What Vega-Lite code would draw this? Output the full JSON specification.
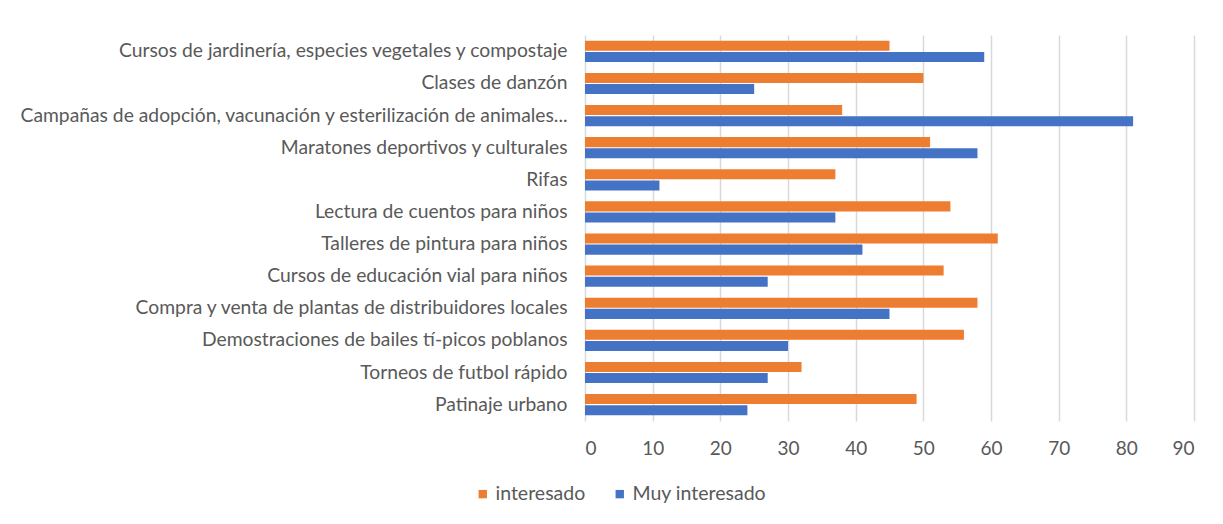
{
  "$schema": "https://vega.github.io/schema/vega-lite/v6.json",
  "width": 609,
  "height": 386,
  "autosize": {"type": "none"},
  "padding": {"left": 585, "top": 35, "right": 29, "bottom": 103},
  "background": "white",
  "data": {
    "values": [
      {"actividad": "Cursos de jardinería, especies vegetales y compostaje", "serie": "interesado", "valor": 45},
      {"actividad": "Cursos de jardinería, especies vegetales y compostaje", "serie": "Muy interesado", "valor": 59},
      {"actividad": "Clases de danzón", "serie": "interesado", "valor": 50},
      {"actividad": "Clases de danzón", "serie": "Muy interesado", "valor": 25},
      {"actividad": "Campañas de adopción, vacunación y esterilización de animales...", "serie": "interesado", "valor": 38},
      {"actividad": "Campañas de adopción, vacunación y esterilización de animales...", "serie": "Muy interesado", "valor": 81},
      {"actividad": "Maratones deportivos y culturales", "serie": "interesado", "valor": 51},
      {"actividad": "Maratones deportivos y culturales", "serie": "Muy interesado", "valor": 58},
      {"actividad": "Rifas", "serie": "interesado", "valor": 37},
      {"actividad": "Rifas", "serie": "Muy interesado", "valor": 11},
      {"actividad": "Lectura de cuentos para niños", "serie": "interesado", "valor": 54},
      {"actividad": "Lectura de cuentos para niños", "serie": "Muy interesado", "valor": 37},
      {"actividad": "Talleres de pintura para niños", "serie": "interesado", "valor": 61},
      {"actividad": "Talleres de pintura para niños", "serie": "Muy interesado", "valor": 41},
      {"actividad": "Cursos de educación vial para niños", "serie": "interesado", "valor": 53},
      {"actividad": "Cursos de educación vial para niños", "serie": "Muy interesado", "valor": 27},
      {"actividad": "Compra y venta de plantas de distribuidores locales", "serie": "interesado", "valor": 58},
      {"actividad": "Compra y venta de plantas de distribuidores locales", "serie": "Muy interesado", "valor": 45},
      {"actividad": "Demostraciones de bailes tí-picos poblanos", "serie": "interesado", "valor": 56},
      {"actividad": "Demostraciones de bailes tí-picos poblanos", "serie": "Muy interesado", "valor": 30},
      {"actividad": "Torneos de futbol rápido", "serie": "interesado", "valor": 32},
      {"actividad": "Torneos de futbol rápido", "serie": "Muy interesado", "valor": 27},
      {"actividad": "Patinaje urbano", "serie": "interesado", "valor": 49},
      {"actividad": "Patinaje urbano", "serie": "Muy interesado", "valor": 24}
    ]
  },
  "mark": {"type": "bar"},
  "encoding": {
    "y": {
      "field": "actividad",
      "type": "nominal",
      "sort": null,
      "scale": {"paddingInner": 0.34, "paddingOuter": 0.18},
      "axis": {
        "title": null,
        "ticks": false,
        "domain": false,
        "labelPadding": 18,
        "labelFont": "Lato",
        "labelFontSize": 19.3,
        "labelColor": "#595959",
        "labelLimit": 0
      }
    },
    "yOffset": {
      "field": "serie",
      "type": "nominal",
      "sort": ["interesado", "Muy interesado"],
      "scale": {"paddingInner": 0.1}
    },
    "x": {
      "field": "valor",
      "type": "quantitative",
      "scale": {"domain": [0, 90], "nice": false},
      "axis": {
        "title": null,
        "values": [0, 10, 20, 30, 40, 50, 60, 70, 80, 90],
        "ticks": false,
        "domain": false,
        "grid": true,
        "gridColor": "#D9D9D9",
        "gridWidth": 1.5,
        "labelPadding": 18,
        "labelFont": "Lato",
        "labelFontSize": 19,
        "labelColor": "#595959"
      }
    },
    "color": {
      "field": "serie",
      "type": "nominal",
      "sort": ["interesado", "Muy interesado"],
      "scale": {"domain": ["interesado", "Muy interesado"], "range": ["#ED7D31", "#4472C4"]},
      "legend": {
        "title": null,
        "orient": "none",
        "direction": "horizontal",
        "legendX": -112,
        "legendY": 449,
        "symbolType": "square",
        "symbolSize": 70,
        "symbolStrokeWidth": 0,
        "labelFont": "Lato",
        "labelFontSize": 19.5,
        "labelColor": "#595959",
        "labelOffset": 3,
        "columnPadding": 24
      }
    }
  },
  "config": {
    "view": {"stroke": null}
  }
}
